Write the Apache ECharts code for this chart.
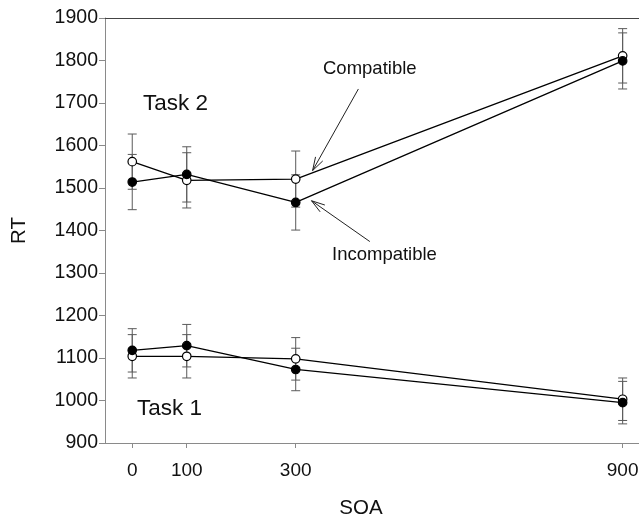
<!DOCTYPE html>
<html>
<head>
<meta charset="utf-8">
<script src="https://cdn.jsdelivr.net/npm/echarts@6/dist/echarts.min.js"></script>
<style>html,body{margin:0;padding:0;background:#fff;}#c{width:639px;height:514px;}</style>
</head>
<body>
<div id="c"></div>
<script>
const soaTicks = [0, 100, 300, 900];
const t2Compat = [1562, 1518, 1521, 1811];
const t2Incompat = [1514, 1532, 1466, 1799];
const t1Compat = [1104, 1104, 1098, 1003];
const t1Incompat = [1118, 1129, 1073, 995];
const t2CompatErr = [65, 65, 66, 64];
const t2IncompatErr = [65, 65, 65, 66];
const t1CompatErr = [51, 51, 50, 50];
const t1IncompatErr = [51, 50, 50, 50];

const FONT = '"Liberation Sans", Arial, sans-serif';
const chart = echarts.init(document.getElementById('c'), null, {renderer: 'canvas'});

function pairs(vals) { return soaTicks.map((x, i) => [x, vals[i]]); }
function errs(vals, e) { return soaTicks.map((x, i) => [x, vals[i] - e[i], vals[i] + e[i]]); }

function renderErr(params, api) {
  const x = api.value(0), lo = api.value(1), hi = api.value(2);
  const p1 = api.coord([x, hi]);
  const p2 = api.coord([x, lo]);
  const w = 4.5;
  const st = {stroke: '#5a5a5a', lineWidth: 1};
  return {
    type: 'group',
    children: [
      {type: 'line', shape: {x1: p1[0], y1: p1[1], x2: p2[0], y2: p2[1]}, style: st},
      {type: 'line', shape: {x1: p1[0] - w, y1: p1[1], x2: p1[0] + w, y2: p1[1]}, style: st},
      {type: 'line', shape: {x1: p2[0] - w, y1: p2[1], x2: p2[0] + w, y2: p2[1]}, style: st}
    ]
  };
}

function errSeries(vals, e) {
  return {type: 'custom', renderItem: renderErr, data: errs(vals, e), z: 1, silent: true, encode: {x: 0, y: [1, 2]}};
}
function lineSeries(vals, filled) {
  return {
    type: 'line', data: pairs(vals), z: 3, symbol: 'circle', symbolSize: 8.5,
    lineStyle: {color: '#000', width: 1.3},
    itemStyle: {color: filled ? '#000' : '#fff', borderColor: '#000', borderWidth: 1.2},
    emphasis: {disabled: true}, animation: false
  };
}

chart.setOption({
  animation: false,
  backgroundColor: '#fff',
  grid: {left: 105, right: 0, top: 18, bottom: 71, containLabel: false, outerBoundsMode: 'none'},
  xAxis: [{
    type: 'value', min: -50, max: 930, position: 'bottom',
    name: 'SOA', nameLocation: 'middle', nameGap: 55,
    nameTextStyle: {fontFamily: FONT, fontSize: 20.5, color: '#111', padding: [0, 22, 0, 0]},
    axisLine: {show: true, onZero: false, lineStyle: {color: '#8a8a8a', width: 1}},
    axisTick: {show: true, length: 5, customValues: soaTicks, lineStyle: {color: '#8a8a8a'}},
    axisLabel: {customValues: soaTicks, fontFamily: FONT, fontSize: 19, color: '#111', margin: 18},
    splitLine: {show: false}
  }, {
    type: 'value', min: -50, max: 930, position: 'top',
    axisLine: {show: true, onZero: false, lineStyle: {color: '#444', width: 1}},
    axisTick: {show: false}, axisLabel: {show: false}, splitLine: {show: false}
  }],
  yAxis: {
    type: 'value', min: 900, max: 1900, interval: 100,
    name: 'RT', nameLocation: 'middle', nameGap: 75,
    nameTextStyle: {fontFamily: FONT, fontSize: 20.5, color: '#111'},
    axisLine: {show: true, onZero: false, lineStyle: {color: '#8a8a8a', width: 1}},
    axisTick: {show: true, inside: false, length: 6, lineStyle: {color: '#8a8a8a'}},
    axisLabel: {fontFamily: FONT, fontSize: 19.5, color: '#111', margin: 7, formatter: v => String(v)},
    splitLine: {show: false}
  },
  series: [
    errSeries(t2Compat, t2CompatErr),
    errSeries(t2Incompat, t2IncompatErr),
    errSeries(t1Compat, t1CompatErr),
    errSeries(t1Incompat, t1IncompatErr),
    lineSeries(t2Compat, false),
    lineSeries(t2Incompat, true),
    lineSeries(t1Compat, false),
    lineSeries(t1Incompat, true)
  ]
});

const arrowCompat = {tail: [415, 1733], tip: [331, 1541]};
const arrowIncompat = {tail: [436, 1374], tip: [329, 1470]};

function arrowGraphic(a) {
  const t = chart.convertToPixel({gridIndex: 0}, a.tail);
  const p = chart.convertToPixel({gridIndex: 0}, a.tip);
  const ang = Math.atan2(t[1] - p[1], t[0] - p[0]);
  const L = 14, h = 0.3;
  const a1 = [p[0] + L * Math.cos(ang + h), p[1] + L * Math.sin(ang + h)];
  const a2 = [p[0] + L * Math.cos(ang - h), p[1] + L * Math.sin(ang - h)];
  return [
    {type: 'line', shape: {x1: t[0], y1: t[1], x2: p[0], y2: p[1]}, style: {stroke: '#222', lineWidth: 1}, z: 10},
    {type: 'polyline', shape: {points: [a1, p, a2]}, style: {stroke: '#222', lineWidth: 1, fill: null}, z: 10}
  ];
}

const txt = (x, y, s, size) => ({type: 'text', x: x, y: y, z: 10,
  style: {text: s, fontFamily: FONT, fontSize: size, fill: '#111', align: 'left', verticalAlign: 'middle'}});

chart.setOption({
  graphic: [
    ...arrowGraphic(arrowCompat),
    ...arrowGraphic(arrowIncompat),
    txt(323, 69, 'Compatible', 18.5),
    txt(332, 254.5, 'Incompatible', 18.5),
    txt(143, 103.5, 'Task 2', 22.5),
    txt(137, 409, 'Task 1', 22.5)
  ]
});
</script>
</body>
</html>
